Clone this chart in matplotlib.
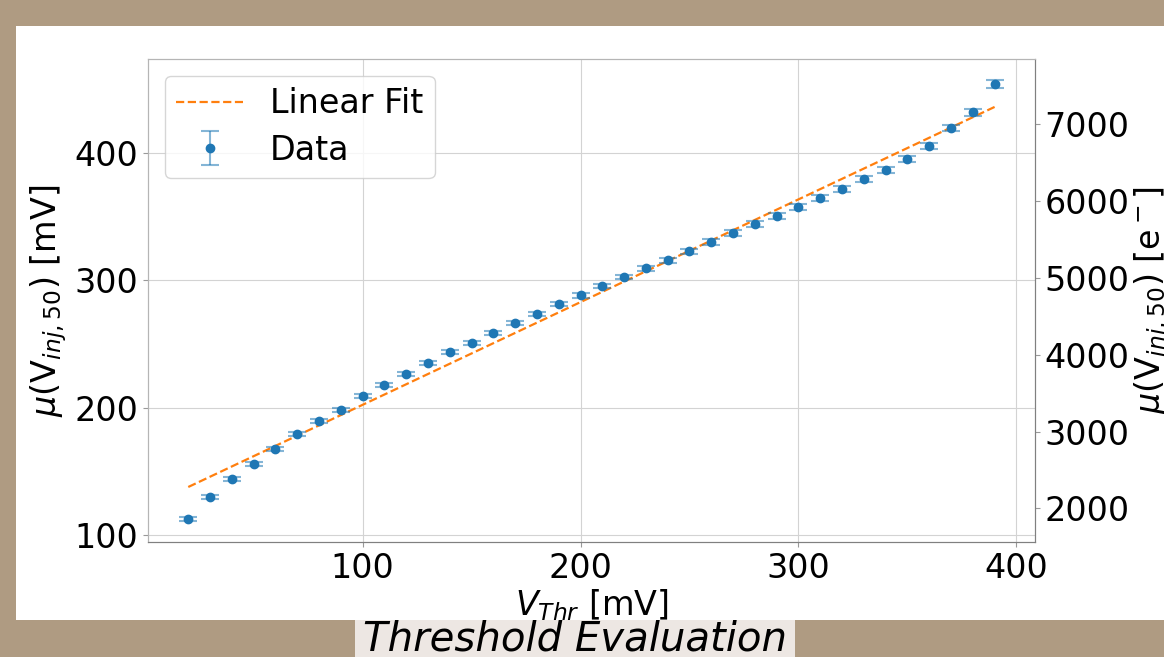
import numpy as np
import matplotlib.pyplot as plt
from matplotlib.patches import Rectangle

# threshold scan: mean injection voltage at 50% response vs. threshold setting
v_thr = np.arange(20, 391, 10)
mu_vinj = [112.6, 129.8, 144.0, 155.8, 167.6, 179.3, 189.6, 198.5, 209.0, 217.8,
           226.5, 235.0, 243.8, 250.8, 258.7, 266.5, 273.6, 281.5, 288.5, 295.6,
           302.7, 309.7, 316.0, 323.0, 330.2, 337.2, 344.3, 350.6, 357.7, 364.7,
           371.8, 379.7, 386.7, 395.4, 405.6, 419.7, 432.3, 454.3]
mu_err = [1.3, 1.3, 1.3, 1.4, 1.4, 1.4, 1.5, 1.5, 1.5, 1.6,
          1.6, 1.6, 1.7, 1.7, 1.7, 1.8, 1.8, 1.8, 1.9, 1.9,
          1.9, 2.0, 2.0, 2.0, 2.0, 2.1, 2.1, 2.1, 2.1, 2.1,
          2.1, 2.1, 2.2, 2.2, 2.3, 2.5, 2.7, 3.0]
fit_slope = 0.807
fit_intercept = 121.6
e_per_mV = 16.55

bg = '#af9b82'
fig = plt.figure(figsize=(11.64, 6.57), dpi=100, facecolor=bg)
fig.patches.append(Rectangle((0.01375, 0.0563), 1.0, 0.9041, transform=fig.transFigure,
                             facecolor='white', edgecolor='none', zorder=-2))
fig.patches.append(Rectangle((0.305, 0.0), 0.378, 0.0563, transform=fig.transFigure,
                             facecolor='#ede7e3', edgecolor='none', zorder=-2))
fig.text(0.494, 0.027, 'Threshold Evaluation', fontsize=29, style='italic',
         ha='center', va='center')

ax = fig.add_axes([0.1271, 0.1750, 0.7620, 0.7352])
ax.set_facecolor('white')

x_fit = np.array([v_thr[0], v_thr[-1]])
ax.plot(x_fit, fit_slope * x_fit + fit_intercept, '--', color='#ff7f0e',
        lw=1.6, label='Linear Fit', zorder=3)
ax.errorbar(v_thr, mu_vinj, yerr=mu_err, fmt='o', color='#1f77b4', ms=6,
            ecolor=(0.12, 0.47, 0.71, 0.55), elinewidth=1.5, capsize=6.5,
            capthick=1.5, label='Data', zorder=4)

ax.set_xlim(1.5, 408.5)
ax.set_ylim(94.5, 474)
ax.set_xticks([100, 200, 300, 400])
ax.set_yticks([100, 200, 300, 400])
ax.grid(True, color='#d3d3d3', lw=0.8)
ax.set_axisbelow(True)
ax.set_xlabel(r'$V_{Thr}$ [mV]', fontsize=24, labelpad=2)
ax.set_ylabel(r'$\mu(\mathrm{V}_{inj,50})$ [mV]', fontsize=24, labelpad=4)
ax.tick_params(labelsize=24, color='#999999', length=3.5)
ax.legend(loc='upper left', fontsize=24, framealpha=0.8, borderpad=0.35,
          labelspacing=0.4, handlelength=2.0)

ax2 = ax.twinx()
ax2.set_ylim(94.5 * e_per_mV, 474 * e_per_mV)
ax2.set_yticks([2000, 3000, 4000, 5000, 6000, 7000])
ax2.set_ylabel(r'$\mu(\mathrm{V}_{inj,50})$ [e$^-$]', fontsize=24, labelpad=2)
ax2.tick_params(labelsize=24, color='#999999', length=3.5)

for a in (ax, ax2):
    a.spines['top'].set_color('#b5b5b5')
    a.spines['left'].set_color('#b5b5b5')
    a.spines['bottom'].set_color('#808080')
    a.spines['right'].set_color('#808080')

fig.savefig('out.png', dpi=100, facecolor=bg)
